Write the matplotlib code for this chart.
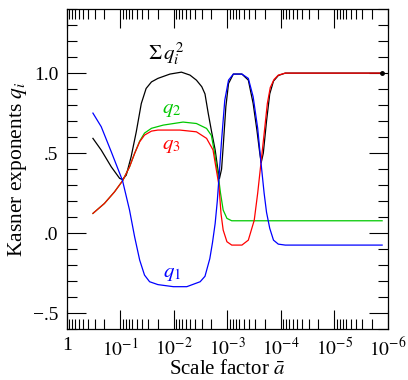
import matplotlib
matplotlib.use("Agg")
import matplotlib.pyplot as plt
import numpy as np
from matplotlib.ticker import FixedLocator, LogLocator, NullFormatter, MultipleLocator

plt.rcParams['font.family'] = ['Liberation Serif', 'DejaVu Serif']
plt.rcParams['mathtext.fontset'] = 'stix'

# x data given as -log10(a)
q1_u = [0.486, 0.641, 0.829, 1.04, 1.17, 1.265, 1.36, 1.45, 1.545, 1.70, 1.99, 2.24, 2.49,
        2.58, 2.67, 2.72, 2.77, 2.81, 2.84, 2.89, 2.95, 3.02, 3.11, 3.27, 3.39, 3.48,
        3.565, 3.625, 3.685, 3.73, 3.79, 3.86, 3.95, 4.08, 5.89]
q1_v = [0.75, 0.665, 0.508, 0.327, 0.144, -0.023, -0.169, -0.2625, -0.304, -0.322, -0.335, -0.335, -0.304,
        -0.27, -0.16, -0.06, 0.06, 0.20, 0.34, 0.58, 0.831, 0.956, 0.994, 0.994, 0.967, 0.852,
        0.655, 0.445, 0.25, 0.13, 0.03, -0.044, -0.069, -0.075, -0.075]

q2_u = [0.486, 0.70, 0.89, 1.04, 1.17, 1.265, 1.36, 1.45, 1.58, 1.80, 2.17, 2.42, 2.61,
        2.70, 2.76, 2.81, 2.84, 2.87, 2.92, 2.99, 3.08, 5.89]
q2_v = [0.123, 0.185, 0.258, 0.327, 0.414, 0.498, 0.575, 0.625, 0.655, 0.675, 0.694, 0.685, 0.654,
        0.61, 0.50, 0.39, 0.33, 0.25, 0.144, 0.092, 0.077, 0.077]

q3_u = [0.486, 0.70, 0.89, 1.04, 1.17, 1.265, 1.36, 1.45, 1.58, 1.70, 2.11, 2.42, 2.61,
        2.73, 2.78, 2.84, 2.88, 2.92, 2.99, 3.08, 3.27, 3.39, 3.50, 3.565, 3.625, 3.685,
        3.745, 3.80, 3.87, 3.95, 4.08, 5.89]
q3_v = [0.123, 0.185, 0.258, 0.327, 0.414, 0.498, 0.571, 0.6125, 0.6375, 0.644, 0.644, 0.633, 0.592,
        0.52, 0.42, 0.30, 0.12, 0.019, -0.054, -0.075, -0.075, -0.044, 0.08, 0.25, 0.435, 0.62,
        0.81, 0.91, 0.96, 0.9875, 1.0, 1.0]

sum_u = [0.486, 0.641, 0.829, 0.985, 1.04, 1.109, 1.20, 1.296, 1.39, 1.48, 1.58, 1.70, 1.925,
         2.14, 2.30, 2.42, 2.52, 2.58, 2.64, 2.70, 2.77, 2.82, 2.85, 2.89, 2.92, 2.97, 3.02,
         3.11, 3.27, 3.39, 3.48, 3.55, 3.60, 3.63, 3.67, 3.73, 3.79, 3.86, 3.95, 4.08, 5.89]
sum_v = [0.592, 0.519, 0.414, 0.342, 0.335, 0.3625, 0.477, 0.633, 0.81, 0.904, 0.945, 0.967, 0.994,
         1.006, 0.9875, 0.956, 0.915, 0.87, 0.75, 0.64, 0.52, 0.40, 0.34, 0.40, 0.54, 0.79, 0.935,
         0.994, 0.994, 0.956, 0.81, 0.644, 0.51, 0.44, 0.50, 0.70, 0.87, 0.95, 0.985, 1.0, 1.0]

xtick_vals = [1, 1e-1, 1e-2, 1e-3, 1e-4, 1e-5, 1e-6]
xtick_labels = ['1', '$10^{-1}$', '$10^{-2}$', '$10^{-3}$', '$10^{-4}$', '$10^{-5}$', '$10^{-6}$']
ytick_vals = [-0.5, 0.0, 0.5, 1.0]
ytick_labels = ['\u2212.5', '.0', '.5', '1.0']

def a_of(u):
    return 10.0 ** (-np.asarray(u))

fig = plt.figure(figsize=(4.08, 3.80), dpi=100)
ax = fig.add_axes([0.164, 0.134, 0.787, 0.842])

lw = 0.9
ax.plot(a_of(sum_u), sum_v, color='black', lw=lw)
ax.plot(a_of(q2_u), q2_v, color='#00c800', lw=lw)
ax.plot(a_of(q3_u), q3_v, color='#ff0000', lw=lw)
ax.plot(a_of(q1_u), q1_v, color='#0000ff', lw=lw)
ax.plot(a_of([sum_u[-1]]), [sum_v[-1]], marker='o', ms=2.5, color='black')

ax.set_xscale('log')
ax.set_xlim(1, 1e-6)
ax.set_ylim(-0.6, 1.4)

ax.xaxis.set_major_locator(FixedLocator(xtick_vals))
ax.set_xticklabels(xtick_labels)
ax.xaxis.set_minor_locator(LogLocator(base=10, subs=np.arange(2, 10), numticks=20))
ax.xaxis.set_minor_formatter(NullFormatter())
ax.yaxis.set_major_locator(FixedLocator(ytick_vals))
ax.set_yticklabels(ytick_labels)
ax.yaxis.set_minor_locator(MultipleLocator(0.1))

ax.tick_params(which='both', direction='in', top=True, right=True, width=0.8, labelsize=14)
ax.tick_params(which='major', length=14)
ax.tick_params(axis='x', which='major', pad=6)
ax.tick_params(axis='y', which='major', pad=6)
ax.tick_params(which='minor', length=7)
for s in ax.spines.values():
    s.set_linewidth(0.9)

ax.set_xlabel(r'Scale factor $\bar{a}$', fontsize=15, labelpad=0)
ax.set_ylabel(r'Kasner exponents $q_i$', fontsize=15.5, labelpad=3)

ax.text(a_of(1.86), 1.12, r'$\Sigma\, q_i^2$', color='black', fontsize=15, ha='center', va='center')
ax.text(a_of(1.96), 0.77, r'$q_2$', color='#00c800', fontsize=15, ha='center', va='center')
ax.text(a_of(1.96), 0.55, r'$q_3$', color='#ff0000', fontsize=15, ha='center', va='center')
ax.text(a_of(1.96), -0.25, r'$q_1$', color='#0000ff', fontsize=15, ha='center', va='center')

fig.savefig('out.png', dpi=100)
